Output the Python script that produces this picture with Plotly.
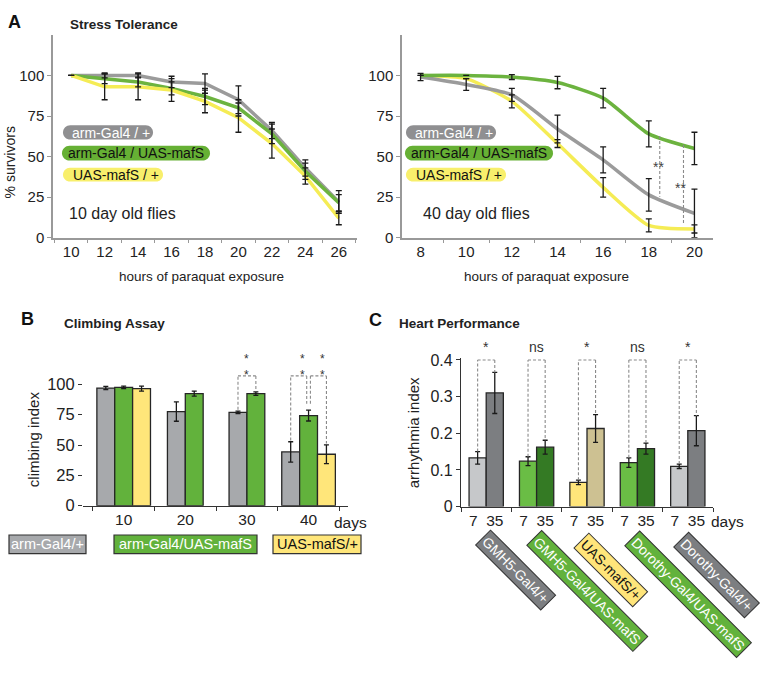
import plotly.graph_objects as go

# ---------------- data ----------------
hours10 = ["10", "12", "14", "16", "18", "20", "22", "24", "26"]
surv10_ctrl = [100, 100, 100, 96, 95, 85, 66, 43, 22]
surv10_mafs = [100, 98, 96, 92, 87, 80, 64, 41, 21.5]
surv10_uas = [100, 93, 93, 91, 84, 74, 58, 38, 12]
err10_ctrl = [0, 1.5, 1.5, 3.5, 6, 8.5, 5, 5, 7]
err10_mafs = [0, 3, 3, 4, 5, 5, 6, 5, 5]
err10_uas = [0, 8, 8, 7, 7, 9, 9, 5, 4]

hours40 = ["8", "10", "12", "14", "16", "18", "20"]
surv40_ctrl = [99, 94.4, 88, 67, 48, 26.4, 15]
surv40_mafs = [100, 100, 99, 95.6, 86, 64, 55]
surv40_uas = [100, 98, 84, 58, 31, 7.6, 5.4]
err40_ctrl = [2.2, 3.6, 4, 8.5, 8, 10, 15]
err40_mafs = [0, 0, 1.5, 3.8, 6, 8, 10]
err40_uas = [0, 0, 4, 2.4, 6, 4, 2.5]

climb_days = ["10", "20", "30", "40"]
climb_ctrl = [97, 77.6, 77, 44.3]
climb_ctrl_err = [1.3, 8, 1, 8.4]
climb_mafs = [97.6, 92.4, 92.4, 74.3]
climb_mafs_err = [1, 2, 1.4, 4.5]
climb_uas = [96.5, None, None, 42.4]
climb_uas_err = [2, 0, 0, 7.8]

genotypes = ["GMH5-Gal4/+", "GMH5-Gal4/UAS-mafS", "UAS-mafS/+",
             "Dorothy-Gal4/UAS-mafS", "Dorothy-Gal4/+"]
arr_d7 = [0.133, 0.124, 0.066, 0.12, 0.11]
arr_d7_err = [0.017, 0.012, 0.006, 0.013, 0.006]
arr_d35 = [0.31, 0.162, 0.213, 0.158, 0.207]
arr_d35_err = [0.056, 0.019, 0.038, 0.015, 0.041]
heart_sig = ["*", "ns", "*", "ns", "*"]
day_ticktext = "7  35"

# ---------------- geometry helpers ----------------
W, H = 765, 675
FONT = "Liberation Sans, Arial, sans-serif"
TXT = "#222222"


def fx(px):
    return px / W


def fy(py):
    return 1 - py / H


# colours
C_GRAY_LINE = "#9b9b9b"
C_GREEN_LINE = "#6cb33f"
C_YELLOW_LINE = "#f5ec55"
B_GRAY = "#a7a9ac"
B_GREEN = "#62b23c"
B_YELLOW = "#ffe67a"
C_LGRAY, C_DGRAY = "#c6c8ca", "#7c7e81"
C_LGREEN, C_DGREEN = "#6abd45", "#347a24"
C_YEL, C_TAN = "#ffe57a", "#cdc192"

fig = go.Figure()

# ---------------- Panel A ----------------
for xs, ys, col, shape, xa, ya in [
    (hours10, surv10_ctrl, C_GRAY_LINE, "linear", "x", "y"),
    (hours10, surv10_mafs, C_GREEN_LINE, "linear", "x", "y"),
    (hours10, surv10_uas, C_YELLOW_LINE, "linear", "x", "y"),
    (hours40, surv40_uas, C_YELLOW_LINE, "spline", "x2", "y2"),
    (hours40, surv40_ctrl, C_GRAY_LINE, "spline", "x2", "y2"),
    (hours40, surv40_mafs, C_GREEN_LINE, "spline", "x2", "y2"),
]:
    fig.add_trace(go.Scatter(x=xs, y=ys, mode="lines", xaxis=xa, yaxis=ya,
                             line=dict(color=col, width=3.5, shape=shape, smoothing=0.6),
                             showlegend=False, hoverinfo="skip"))

for xs, ys, es, xa, ya in [
    (hours10, surv10_ctrl, err10_ctrl, "x", "y"),
    (hours10, surv10_mafs, err10_mafs, "x", "y"),
    (hours10, surv10_uas, err10_uas, "x", "y"),
    (hours40, surv40_ctrl, err40_ctrl, "x2", "y2"),
    (hours40, surv40_mafs, err40_mafs, "x2", "y2"),
    (hours40, surv40_uas, err40_uas, "x2", "y2"),
]:
    fig.add_trace(go.Scatter(x=xs, y=ys, mode="markers", xaxis=xa, yaxis=ya,
                             marker=dict(size=1, color="rgba(0,0,0,0)"),
                             error_y=dict(type="data", array=es, color="#1a1a1a",
                                          thickness=1.3, width=3),
                             showlegend=False, hoverinfo="skip"))

# ---------------- Panel B ----------------
bw = 0.29
for ys, es, col, offs in [
    (climb_ctrl, climb_ctrl_err, B_GRAY, [-1.5 * bw, -bw, -bw, -1.5 * bw]),
    (climb_mafs, climb_mafs_err, B_GREEN, [-0.5 * bw, 0, 0, -0.5 * bw]),
    (climb_uas, climb_uas_err, B_YELLOW, [0.5 * bw, 0, 0, 0.5 * bw]),
]:
    fig.add_trace(go.Bar(x=climb_days, y=ys, xaxis="x3", yaxis="y3",
                         width=[bw] * 4, offset=offs,
                         marker=dict(color=col, line=dict(color="#262626", width=1.3)),
                         error_y=dict(type="data", array=es, color="#1a1a1a",
                                      thickness=1.3, width=2.5),
                         showlegend=False, hoverinfo="skip"))

# ---------------- Panel C ----------------
cw = 0.34
fig.add_trace(go.Bar(x=genotypes, y=arr_d7, xaxis="x4", yaxis="y4",
                     width=[cw] * 5, offset=[-cw] * 5,
                     marker=dict(color=[C_LGRAY, C_LGREEN, C_YEL, C_LGREEN, C_LGRAY],
                                 line=dict(color="#262626", width=1.3)),
                     error_y=dict(type="data", array=arr_d7_err, color="#1a1a1a",
                                  thickness=1.3, width=2.5),
                     showlegend=False, hoverinfo="skip"))
fig.add_trace(go.Bar(x=genotypes, y=arr_d35, xaxis="x4", yaxis="y4",
                     width=[cw] * 5, offset=[0] * 5,
                     marker=dict(color=[C_DGRAY, C_DGREEN, C_TAN, C_DGREEN, C_DGRAY],
                                 line=dict(color="#262626", width=1.3)),
                     error_y=dict(type="data", array=arr_d35_err, color="#1a1a1a",
                                  thickness=1.3, width=2.5),
                     showlegend=False, hoverinfo="skip"))

# ---------------- axes ----------------
a_common = dict(showgrid=False, zeroline=False, showline=True, linecolor="#999999",
                linewidth=1.5, ticks="outside", ticklen=4, tickcolor="#999999",
                tickfont=dict(size=15, color=TXT, family=FONT))
ydomA = [fy(237), fy(29.5)]
dark_axis = dict(showgrid=False, zeroline=False, linecolor="#333333", linewidth=1.2,
                 ticks="outside", ticklen=4, tickcolor="#333333")

layout = dict(
    width=W, height=H, margin=dict(l=0, r=0, t=0, b=0),
    plot_bgcolor="white", paper_bgcolor="white",
    font=dict(family=FONT, color=TXT),
    barmode="overlay",
    xaxis=dict(domain=[fx(53), fx(357)], anchor="y", type="category",
               tickson="boundaries", **a_common),
    yaxis=dict(domain=ydomA, anchor="x", range=[0, 125],
               tickvals=[0, 25, 50, 75, 100], **a_common),
    xaxis2=dict(domain=[fx(402), fx(713)], anchor="y2", type="category",
                tickson="boundaries", **a_common),
    yaxis2=dict(domain=ydomA, anchor="x2", range=[0, 125],
                tickvals=[0, 25, 50, 75, 100], **a_common),
    xaxis3=dict(domain=[fx(83), fx(348)], anchor="y3", type="category",
                range=[-0.66, 3.64], tickson="boundaries", showline=True,
                tickfont=dict(size=15.5, color=TXT, family=FONT), **dark_axis),
    yaxis3=dict(domain=[fy(511), fy(356)], anchor="x3", range=[0, 125],
                tickvals=[0, 25, 50, 75, 100], showline=False,
                tickfont=dict(size=16.5, color=TXT, family=FONT), **dark_axis),
    xaxis4=dict(domain=[fx(461), fx(713)], anchor="y4", type="category",
                range=[-0.5, 4.5], tickson="boundaries",
                tickvals=genotypes, ticktext=[day_ticktext] * 5, showline=True,
                tickfont=dict(size=15.5, color=TXT, family=FONT), **dark_axis),
    yaxis4=dict(domain=[fy(512), fy(360)], anchor="x4", range=[0, 0.4053],
                tickvals=[0, 0.1, 0.2, 0.3, 0.4], ticktext=["0", "0.1", "0.2", "0.3", "0.4"],
                showline=True,
                tickfont=dict(size=16, color=TXT, family=FONT), **dark_axis),
)
fig.update_layout(**layout)

shapes = []
annotations = []


def ann(text, px, py, size=14, color=TXT, bold=False, xanchor="center",
        yanchor="middle", angle=0, **kw):
    t = f"<b>{text}</b>" if bold else text
    annotations.append(dict(text=t, x=fx(px), y=fy(py), xref="paper", yref="paper",
                            showarrow=False, xanchor=xanchor, yanchor=yanchor,
                            textangle=angle,
                            font=dict(size=size, color=color, family=FONT), **kw))


def pill(x0, y0, x1, y1, color):
    r = (y1 - y0) / 2
    k = 0.5523 * r
    pts = [
        ("M", [(x0 + r, y0)]),
        ("L", [(x1 - r, y0)]),
        ("C", [(x1 - r + k, y0), (x1, y0 + r - k), (x1, y0 + r)]),
        ("C", [(x1, y0 + r + k), (x1 - r + k, y1), (x1 - r, y1)]),
        ("L", [(x0 + r, y1)]),
        ("C", [(x0 + r - k, y1), (x0, y1 - r + k), (x0, y1 - r)]),
        ("C", [(x0, y1 - r - k), (x0 + r - k, y0), (x0 + r, y0)]),
    ]
    path = ""
    for cmd, ps in pts:
        path += cmd + " " + " ".join(f"{fx(a):.5f},{fy(b):.5f}" for a, b in ps) + " "
    path += "Z"
    shapes.append(dict(type="path", path=path, xref="paper", yref="paper",
                       fillcolor=color, line=dict(width=0), layer="above"))


def dash(xref, yref, x0, y0, x1, y1):
    shapes.append(dict(type="line", xref=xref, yref=yref, x0=x0, y0=y0, x1=x1, y1=y1,
                       line=dict(color="#8a8a8a", width=1.1, dash="3px,2px")))


# panel letters and titles
ann("A", 14, 16, size=18, bold=True, color="#111")
ann("Stress Tolerance", 68, 19, size=13.5, bold=True, xanchor="left")
ann("B", 27, 320, size=18, bold=True, color="#111")
ann("Climbing Assay", 62, 325, size=13.5, bold=True, xanchor="left")
ann("C", 375, 321, size=18, bold=True, color="#111")
ann("Heart Performance", 397, 325, size=13.5, bold=True, xanchor="left")

# axis titles
ann("% survivors", 10, 160, size=14, angle=-90)
ann("hours of paraquat exposure", 201, 277, size=13.5)
ann("hours of paraquat exposure", 546, 277, size=13.5)
ann("climbing index", 33, 443, size=15, angle=-90)
ann("arrhythmia index", 413, 437, size=15, angle=-90)
ann("days", 350, 528, size=15.5)
ann("days", 727, 527, size=15.5)

# age labels
ann("10 day old flies", 67, 212, size=16, xanchor="left")
ann("40 day old flies", 421, 212, size=16, xanchor="left")

# pills (legend) in panel A
for dx in (0, 343):
    pill(63 + dx, 122, 153 + dx, 136.5, "#8f8f91")
    pill(62 + dx, 143, 210 + dx, 158, "#66b034")
    pill(63 + dx, 165.5, 163 + dx, 179.5, "#f8ef6c")
    ann("arm-Gal4 / +", 70 + dx, 129.5, size=14, color="white", xanchor="left")
    ann("arm-Gal4 / UAS-mafS", 66 + dx, 150.5, size=14, color="#111", xanchor="left")
    ann("UAS-mafS / +", 71 + dx, 172.5, size=14, color="#111", xanchor="left")

# significance panel A right
dash("x2", "y2", 5.24, 62.6, 5.24, 25.3)
dash("x2", "y2", 5.76, 57.2, 5.76, 9)
ann("**", 658, 165, size=14, color="#444")
ann("**", 680, 186, size=14, color="#444")

# significance panel B (brackets)
top_b = 107
g30, g40 = 2, 3
xg = g30 - bw / 2
xm = g30 + bw / 2
dash("x3", "y3", xg, climb_ctrl[2] + climb_ctrl_err[2] + 1, xg, top_b)
dash("x3", "y3", xg, top_b, xm, top_b)
dash("x3", "y3", xm, top_b, xm, climb_mafs[2] + climb_mafs_err[2] + 1)
xg4, xm4, xu4 = g40 - bw, g40, g40 + bw
dash("x3", "y3", xg4, climb_ctrl[3] + climb_ctrl_err[3] + 1, xg4, top_b)
dash("x3", "y3", xg4, top_b, xm4 - 0.03, top_b)
dash("x3", "y3", xm4 - 0.03, top_b, xm4 - 0.03, 84)
dash("x3", "y3", xm4 + 0.03, 84, xm4 + 0.03, top_b)
dash("x3", "y3", xm4 + 0.03, top_b, xu4, top_b)
dash("x3", "y3", xu4, top_b, xu4, climb_uas[3] + climb_uas_err[3] + 1)
for px in (246, 302, 322):
    ann("*<br>*", px, 369, size=12, color="#333")

# legend boxes panel B
for x0, x1, col, txt, tc in [
    (9, 86, B_GRAY, "arm-Gal4/+", "white"),
    (114, 257, B_GREEN, "arm-Gal4/UAS-mafS", "white"),
    (273, 361, B_YELLOW, "UAS-mafS/+", "#111"),
]:
    shapes.append(dict(type="rect", xref="paper", yref="paper", x0=fx(x0), x1=fx(x1),
                       y0=fy(560), y1=fy(541), fillcolor=col,
                       line=dict(color="#333333", width=1.2)))
    ann(txt, (x0 + x1) / 2, 550.5, size=14.5, color=tc)

# significance panel C
for i, s in enumerate(heart_sig):
    xl, xr = i - cw / 2, i + cw / 2
    dash("x4", "y4", xl, arr_d7[i] + arr_d7_err[i], xl, 0.4)
    dash("x4", "y4", xl, 0.4, xr, 0.4)
    dash("x4", "y4", xr, 0.4, xr, arr_d35[i] + arr_d35_err[i])
    annotations.append(dict(text=s, x=i, y=fy(349), xref="x4", yref="paper",
                            showarrow=False, xanchor="center", yanchor="middle",
                            font=dict(size=14, color="#333", family=FONT)))

# rotated genotype labels panel C
for txt, cx, cy, bg, tc in [
    ("GMH5-Gal4/+", 515.5, 577, C_DGRAY, "white"),
    ("GMH5-Gal4/UAS-mafS", 587.5, 598, B_GREEN, "white"),
    ("UAS-mafS/+", 611, 576.5, C_YEL, "#111"),
    ("Dorothy-Gal4/UAS-mafS", 688, 601, B_GREEN, "white"),
    ("Dorothy-Gal4/+", 716.5, 582, C_DGRAY, "white"),
]:
    ann(txt, cx, cy, size=14, color=tc, angle=45, bgcolor=bg,
        bordercolor="#333333", borderwidth=1, borderpad=2)

fig.update_layout(shapes=shapes, annotations=annotations)
fig.write_html("out.html", config={"displayModeBar": False},
               post_script="document.body.style.margin='0px';")
